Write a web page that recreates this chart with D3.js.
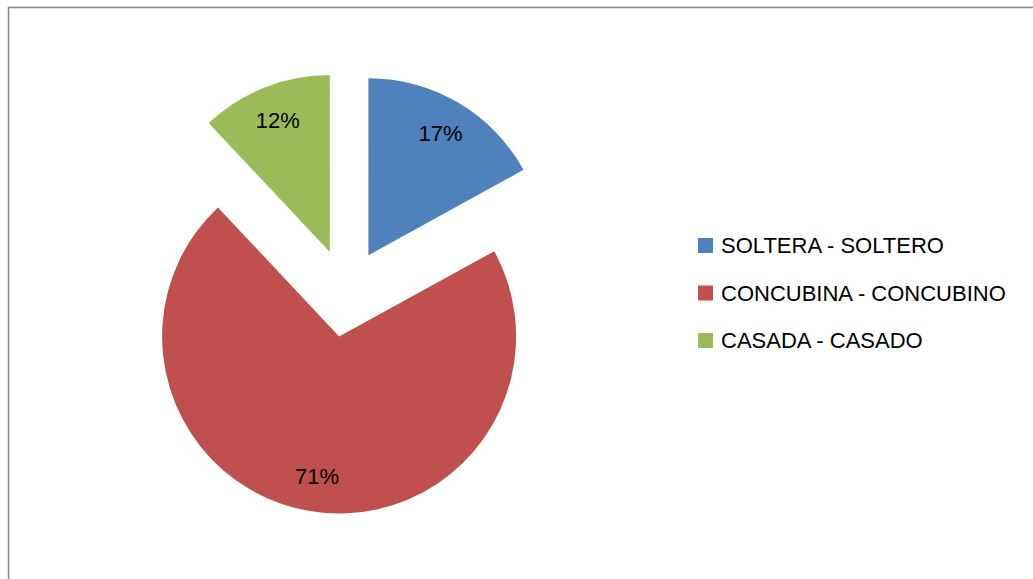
<!DOCTYPE html>
<html>
<head>
<meta charset="utf-8">
<script src="https://cdn.jsdelivr.net/npm/d3@7"></script>
<style>
  body { margin: 0; background: #fff; }
  svg { display: block; }
</style>
</head>
<body>
<div id="chart"></div>
<script>
let width = 1033;
let height = 579;

let categories = ['SOLTERA - SOLTERO', 'CONCUBINA - CONCUBINO', 'CASADA - CASADO'];
let values = [17, 71, 12];
let colors = ['#4F81BD', '#C0504D', '#9BBB59'];

let svg = d3.select('#chart')
  .append('svg')
  .attr('width', width)
  .attr('height', height);

// chart area border (only left and top visible in the picture)
svg.append('rect')
  .attr('x', 8.5)
  .attr('y', 7.5)
  .attr('width', width + 20)
  .attr('height', height + 20)
  .attr('fill', 'none')
  .attr('stroke', '#868686')
  .attr('stroke-width', 1.5);

let cx = 346;
let cy = 293;
let radius = 177;
let explode = 44;

let pie = d3.pie().sort(null).value(function(d) { return d; });
let arcs = pie(values);

let arc = d3.arc().innerRadius(0).outerRadius(radius);
let labelArc = d3.arc().innerRadius(radius * 0.8).outerRadius(radius * 0.8);

let slices = svg.append('g')
  .attr('transform', 'translate(' + cx + ',' + cy + ')')
  .selectAll('g')
  .data(arcs)
  .enter()
  .append('g')
  .attr('transform', function(d) {
    let mid = (d.startAngle + d.endAngle) / 2;
    return 'translate(' + (explode * Math.sin(mid)) + ',' + (-explode * Math.cos(mid)) + ')';
  });

slices.append('path')
  .attr('d', arc)
  .attr('fill', function(d, i) { return colors[i]; });

slices.append('text')
  .attr('transform', function(d) { return 'translate(' + labelArc.centroid(d) + ')'; })
  .attr('text-anchor', 'middle')
  .attr('dy', '0.35em')
  .style('font-family', 'Liberation Sans, Arial, sans-serif')
  .style('font-size', '22px')
  .style('fill', '#000')
  .text(function(d) { return d.data + '%'; });

let legend = svg.append('g')
  .attr('transform', 'translate(698,238)');

let rows = legend.selectAll('g')
  .data(categories)
  .enter()
  .append('g')
  .attr('transform', function(d, i) { return 'translate(0,' + (i * 47.5) + ')'; });

rows.append('rect')
  .attr('width', 15)
  .attr('height', 15)
  .attr('fill', function(d, i) { return colors[i]; });

rows.append('text')
  .attr('x', 23)
  .attr('y', 15)
  .style('font-family', 'Liberation Sans, Arial, sans-serif')
  .style('font-size', '22px')
  .style('fill', '#000')
  .text(function(d) { return d; });
</script>
</body>
</html>
